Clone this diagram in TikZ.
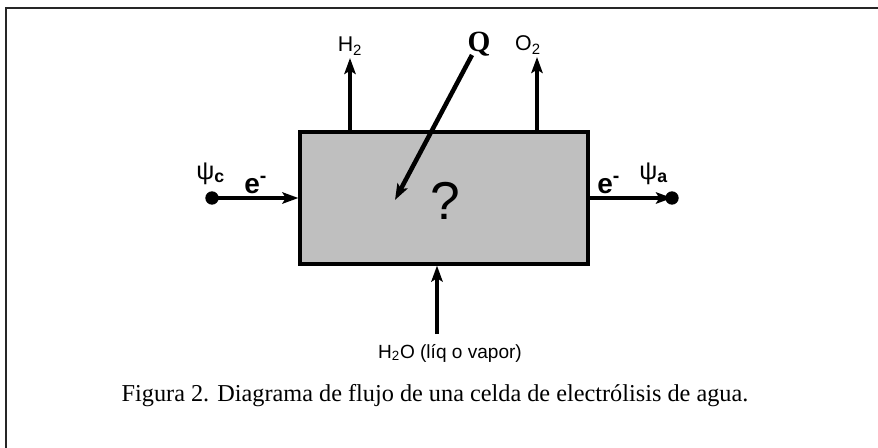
\documentclass[tikz,border=0pt]{standalone}
\usepackage{fontspec}
\setmainfont{Liberation Serif}
\newfontfamily\sansf{Liberation Sans}
\usetikzlibrary{arrows.meta}
\tikzset{
  flow/.style={line width=3.4pt,-{Stealth[length=12pt,width=8.5pt,inset=2.5pt]}},
  lbl/.style={font=\sansf\fontsize{14.3}{16}\selectfont, inner sep=0pt},
  toplbl/.style={font=\sansf\fontsize{16}{18}\selectfont, inner sep=0pt},
  elab/.style={font=\sansf\bfseries\fontsize{21}{23}\selectfont, inner sep=0pt},
  psil/.style={font=\sansf\fontsize{19}{21}\selectfont, inner sep=0pt},
  dotn/.style={circle, fill=black, inner sep=0pt, minimum size=10pt}
}
\begin{document}
\begin{tikzpicture}[x=0.75pt,y=-0.75pt]
\useasboundingbox (0,0) rectangle (878,447);
\draw[line width=1.6pt, black!85] (6,8) rectangle (900,470);
\node[draw, line width=2.4pt, fill=black!25, minimum width=216pt, minimum height=99pt, inner sep=0pt] (box) at (444,198) {};
\node[font=\sansf\fontsize{40}{44}\selectfont, inner sep=0pt] (q) at (445,201) {?};
% top arrows
\coordinate (h2s) at (350,132);
\coordinate (h2e) at (350,58);
\draw[flow] (h2s) -- (h2e);
\node[toplbl] (h2) at (350,46) {H\textsubscript{2}};
\coordinate (o2s) at (537,132);
\coordinate (o2e) at (537,57);
\draw[flow] (o2s) -- (o2e);
\node[toplbl] (o2) at (528,45) {O\textsubscript{2}};
% heat
\coordinate (qs) at (472,55);
\coordinate (qe) at (395,200);
\draw[flow] (qs) -- (qe);
\node[font=\bfseries\fontsize{22}{24}\selectfont, inner sep=0pt] (Q) at (479,44) {Q};
% left electrons
\node[dotn] (dc) at (212,198) {};
\draw[flow] (dc.center) -- (box.west);
\node[psil, anchor=base west] (psic) at (196,179) {ψ\textsubscript{\bfseries c}};
\node[elab, anchor=base west] (ec) at (244,193) {e\textsuperscript{-}};
% right electrons
\node[dotn] (da) at (672,198) {};
\draw[flow] (box.east) -- (da.center);
\node[elab, anchor=base west] (ea) at (597,193) {e\textsuperscript{-}};
\node[psil, anchor=base west] (psia) at (639,179) {ψ\textsubscript{\bfseries a}};
% bottom water
\coordinate (ws) at (437,334);
\draw[flow] (ws) -- (box.south -| ws);
\node[lbl] (w) at (450,353) {H\textsubscript{2}O (líq o vapor)};
% caption
\node[font=\fontsize{18.2}{21}\selectfont, inner sep=0pt] (cap) at (435,396) {Figura 2. Diagrama de flujo de una celda de electrólisis de agua.};
\end{tikzpicture}
\end{document}
